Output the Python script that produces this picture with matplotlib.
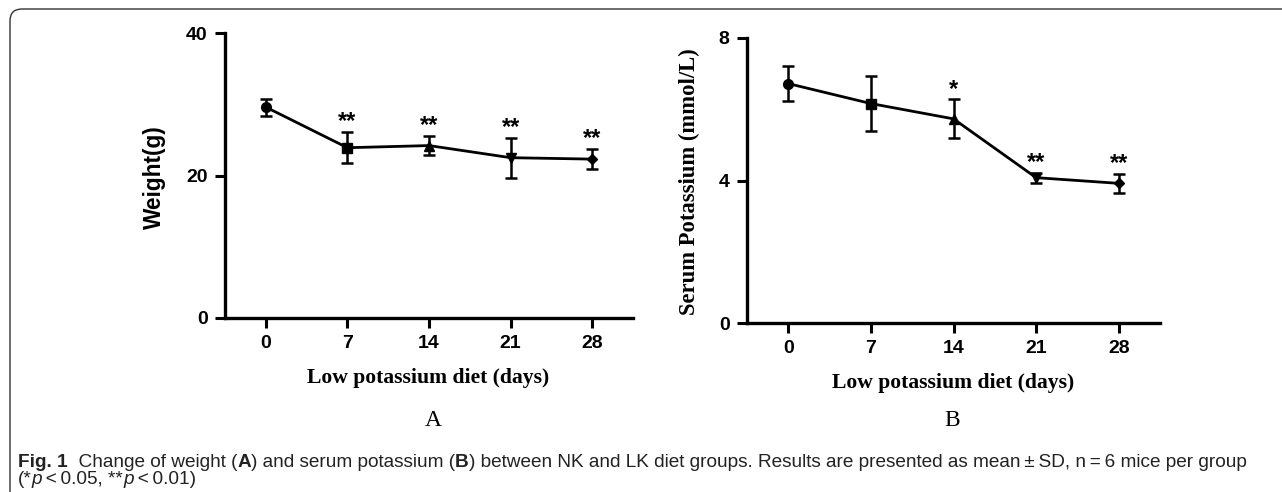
import numpy as np
import matplotlib
matplotlib.use("Agg")
import matplotlib.pyplot as plt
from matplotlib.patches import FancyBboxPatch

# data
days = [0, 7, 14, 21, 28]
markers = ["o", "s", "^", "v", "D"]

weight_mean = [29.6, 23.9, 24.2, 22.5, 22.3]
weight_sd = [1.2, 2.2, 1.35, 2.8, 1.45]
weight_stars = ["", "**", "**", "**", "**"]

potassium_mean = [6.72, 6.16, 5.73, 4.08, 3.92]
potassium_sd = [0.5, 0.76, 0.55, 0.14, 0.26]
potassium_stars = ["", "", "*", "**", "**"]

W, H = 1282, 492
fig = plt.figure(figsize=(W / 100, H / 100), dpi=100)

sans = ["Liberation Sans", "DejaVu Sans"]
serif = ["Liberation Serif", "DejaVu Serif"]


def panel(rect, mean, sd, stars, ymax, yticks, ylabel, ylabel_font, ylab_x):
    ax = fig.add_axes(rect)
    ax.plot(days, mean, "-", color="black", lw=2.0, zorder=3)
    for d, m, s, mk in zip(days, mean, sd, markers):
        ax.errorbar(d, m, yerr=s, fmt=mk, color="black", ms=7 if mk != "D" else 5.5,
                    elinewidth=1.8, capsize=4.5, capthick=1.8, zorder=4)
    for d, m, s, st in zip(days, mean, sd, stars):
        if st:
            ax.annotate(st, xy=(d, m + s), xytext=(0, -1), textcoords="offset points",
                        ha="center", va="bottom", fontsize=17, fontweight="bold", family=sans)
    ax.set_xlim(-3.5, 31.5)
    ax.set_ylim(0, ymax)
    ax.set_xticks(days)
    ax.set_yticks(yticks)
    for sp in ["top", "right"]:
        ax.spines[sp].set_visible(False)
    for sp in ["left", "bottom"]:
        ax.spines[sp].set_linewidth(2.4)
    ax.tick_params(width=2.2, length=7.5, pad=5, labelsize=14)
    for lb in ax.get_xticklabels() + ax.get_yticklabels():
        lb.set_fontweight("bold")
        lb.set_family(sans)
    ax.set_xlabel("Low potassium diet (days)", fontsize=15.6, fontweight="bold", family=serif)
    ax.xaxis.set_label_coords(0.498, -0.21)
    ax.set_ylabel(ylabel, fontsize=16.3, fontweight="bold", family=ylabel_font)
    ax.yaxis.set_label_coords(ylab_x, 0.495)
    ax.xaxis.label.set_va("center")
    ax.yaxis.label.set_va("center")
    return ax


panel([225 / W, 1 - 318 / H, 408 / W, 285 / H], weight_mean, weight_sd, weight_stars,
      40, [0, 20, 40], "Weight(g)", sans, -0.172)
panel([747 / W, 1 - 323 / H, 413 / W, 285 / H], potassium_mean, potassium_sd, potassium_stars,
      8, [0, 4, 8], "Serum Potassium (mmol/L)", serif, -0.140)

fig.text(433 / W, 1 - 420 / H, "A", fontsize=17, family=serif, ha="center", va="center")
fig.text(952 / W, 1 - 420 / H, "B", fontsize=17, family=serif, ha="center", va="center")

# frame round the figure (only top and left edges are visible)
frame = FancyBboxPatch((0.10, -0.5), 14, (H - 9) / 100 + 0.5,
                       boxstyle="round,pad=0,rounding_size=0.12",
                       transform=fig.dpi_scale_trans, fill=False,
                       edgecolor="#333333", lw=1.0)
fig.add_artist(frame)

# caption, drawn piece by piece so bold/italic parts can be mixed
line1 = [("Fig. 1", "bold", "normal"), ("  Change of weight (", "normal", "normal"),
         ("A", "bold", "normal"), (") and serum potassium (", "normal", "normal"),
         ("B", "bold", "normal"),
         (") between NK and LK diet groups. Results are presented as mean\u2009\u00b1\u2009SD, n\u2009=\u20096 mice per group",
          "normal", "normal")]
line2 = [("(*", "normal", "normal"), ("p", "normal", "italic"), ("\u2009<\u20090.05, **", "normal", "normal"),
         ("p", "normal", "italic"), ("\u2009<\u20090.01)", "normal", "normal")]

fig.canvas.draw()
renderer = fig.canvas.get_renderer()


def draw_line(parts, y):
    x = 18 / W
    for s, wt, st in parts:
        t = fig.text(x, y, s, fontsize=13.7, fontweight=wt, style=st, family=sans,
                     va="baseline", ha="left", color="#222222")
        bb = t.get_window_extent(renderer)
        x += bb.width / W


draw_line(line1, 1 - 467 / H)
draw_line(line2, 1 - 484 / H)

fig.savefig("out.png", dpi=100)
